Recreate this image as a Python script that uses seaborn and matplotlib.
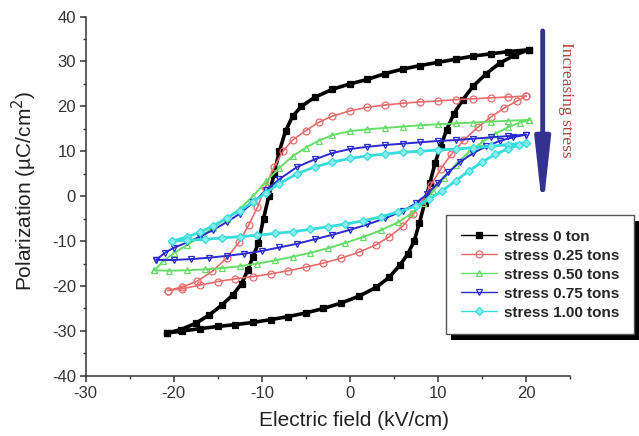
import numpy as np
import pandas as pd
import matplotlib.pyplot as plt
import seaborn as sns
from matplotlib.patches import Rectangle
from matplotlib.transforms import IdentityTransform
from matplotlib.ticker import MultipleLocator

# P-E hysteresis loops
# each loop: upper branch (field going down), then lower branch (field going up)
e0_up = [20.3, 18, 16, 14, 12, 10, 8, 6, 4, 2, 0, -2, -4, -5.5, -6.5, -7.3, -8.0, -8.6, -9.2,
         -9.8, -10.4, -11.0, -11.6, -12.3, -13.3, -14.5, -16, -17.5, -19.2, -20.8]
p0_up = [32.6, 32.2, 31.7, 31.2, 30.5, 29.8, 29.1, 28.3, 27.3, 26.0, 25.0, 23.8, 22.0, 20.0, 17.8,
         14.5, 10.0, 5.0, 0.0, -5.0, -10.5, -13.5, -16.5, -19.5, -22.0, -24.2, -26.5, -28.3, -29.7, -30.5]
e0_dn = [-20.8, -19, -17, -15, -13, -11, -9, -7, -5, -3, -1, 1, 3, 4.5, 5.7, 6.6, 7.3, 7.9, 8.5,
         9.1, 9.7, 10.3, 11.0, 11.8, 12.8, 14.0, 15.5, 17.0, 18.7, 20.3]
p0_dn = [-30.5, -30.0, -29.5, -29.0, -28.6, -28.1, -27.5, -26.8, -26.0, -25.0, -23.8, -22.3, -20.3,
         -18.0, -15.3, -12.8, -10.0, -6.0, -1.5, 3.0, 7.5, 11.0, 14.8, 18.3, 21.4, 24.5, 27.3, 29.6, 31.4, 32.6]

e25_up = [20, 18, 16, 14, 12, 10, 8, 6, 4, 2, 0, -2, -3.5, -5, -6.5, -7.6, -8.6, -9.6, -10.5,
          -11.5, -12.6, -14, -15.6, -17.3, -19, -20.7]
p25_up = [22.3, 22.1, 21.9, 21.7, 21.5, 21.2, 21.0, 20.7, 20.3, 19.8, 19.0, 17.8, 16.5, 14.6, 12.5,
          10.0, 6.5, 2.0, -2.5, -6.5, -10.3, -13.8, -16.7, -18.9, -20.2, -21.0]
e25_dn = [-20.7, -19, -17, -15, -13, -11, -9, -7, -5, -3, -1, 1, 3, 4.5, 6, 7.2, 8.2, 9.2, 10.3,
          11.5, 13, 14.5, 16, 17.5, 19, 20]
p25_dn = [-21.0, -20.6, -19.8, -19.0, -18.4, -17.9, -17.3, -16.6, -15.8, -14.9, -13.8, -12.5, -10.8,
          -9.0, -6.7, -4.0, -1.0, 2.5, 6.0, 9.3, 12.6, 15.3, 17.6, 19.6, 21.2, 22.3]

e50_up = [20.4, 18, 16, 14, 12, 10, 8, 6, 4, 2, 0, -2, -3.5, -5, -6.5, -8, -9.5, -11, -12.5,
          -14, -15.5, -17, -18.5, -20, -21.2, -22.2]
p50_up = [17.0, 16.8, 16.6, 16.4, 16.2, 16.0, 15.8, 15.5, 15.2, 14.9, 14.5, 13.6, 12.4, 10.8, 8.9,
          6.3, 3.3, 0.0, -2.8, -5.0, -7.0, -9.0, -10.9, -12.7, -14.5, -16.5]
e50_dn = [-22.2, -20.5, -18.5, -16.5, -14.5, -12.5, -10.5, -8.5, -6.5, -4.5, -2.5, -0.5, 1.5, 3.5,
          5.5, 7, 8.3, 9.5, 10.7, 12, 13.5, 15, 16.5, 18, 19.3, 20.4]
p50_dn = [-16.5, -16.6, -16.5, -16.3, -16.0, -15.6, -15.0, -14.3, -13.5, -12.6, -11.6, -10.4, -9.1,
          -7.6, -5.8, -3.8, -1.5, 1.2, 4.0, 7.0, 9.8, 12.0, 13.9, 15.4, 16.4, 17.0]

e75_up = [20, 18, 16, 14, 12, 10, 8, 6, 4, 2, 0, -2, -4, -6, -8, -9.5, -11, -12.5, -14, -15.5,
          -17, -18.5, -20, -21, -22]
p75_up = [13.7, 13.4, 13.1, 12.8, 12.5, 12.3, 12.0, 11.7, 11.4, 11.0, 10.5, 9.6, 8.2, 6.5, 3.8,
          1.3, -1.4, -3.9, -5.8, -7.5, -9.0, -10.3, -11.5, -12.6, -14.2]
e75_dn = [-22, -20, -18, -16, -14, -12, -10, -8, -6, -4, -2, 0, 2, 4, 6, 7.5, 8.8, 10, 11.2, 12.5,
          14, 15.5, 17, 18.5, 20]
p75_dn = [-14.2, -14.2, -14.0, -13.7, -13.3, -12.8, -12.2, -11.4, -10.6, -9.6, -8.6, -7.5, -6.3,
          -4.9, -3.3, -1.6, 0.5, 2.9, 5.3, 7.6, 9.6, 11.1, 12.3, 13.1, 13.7]

e100_up = [20, 18, 16, 14, 12, 10, 8, 6, 4, 2, 0, -2, -4, -6, -8, -9.5, -11, -12.5, -14, -15.5,
           -17, -18.5, -20.2]
p100_up = [11.9, 11.5, 11.1, 10.8, 10.5, 10.3, 10.0, 9.8, 9.4, 9.0, 8.4, 7.6, 6.5, 5.0, 2.8, 0.8,
           -1.3, -3.2, -4.9, -6.6, -8.0, -9.1, -10.0]
e100_dn = [-20.2, -18.5, -16.5, -14.5, -12.5, -10.5, -8.5, -6.5, -4.5, -2.5, -0.5, 1.5, 3.5, 5.5,
           7.5, 9, 10.5, 12, 13.5, 15, 16.5, 18, 19.2, 20]
p100_dn = [-10.0, -9.8, -9.6, -9.3, -9.0, -8.7, -8.3, -7.9, -7.4, -6.8, -6.2, -5.5, -4.6, -3.5,
           -2.2, -0.7, 1.2, 3.4, 5.6, 7.6, 9.3, 10.6, 11.4, 11.9]

labels = ['stress 0 ton', 'stress 0.25 tons', 'stress 0.50 tons', 'stress 0.75 tons', 'stress 1.00 tons']
loops = [(e0_up + e0_dn, p0_up + p0_dn),
         (e25_up + e25_dn, p25_up + p25_dn),
         (e50_up + e50_dn, p50_up + p50_dn),
         (e75_up + e75_dn, p75_up + p75_dn),
         (e100_up + e100_dn, p100_up + p100_dn)]

# 样式: 颜色, marker, 填充, marker大小, 线宽
styles = [('#000000', 's', '#000000', 4.5, 2.6),
          ('#e86a6a', 'o', 'none', 5.0, 1.2),
          ('#66dd66', '^', 'none', 5.0, 1.4),
          ('#2a2ad0', 'v', 'none', 5.0, 1.4),
          ('#35dcdc', 'D', '#8cecec', 4.0, 2.0)]

sns.set_style('ticks')
plt.rcParams['font.family'] = ['Liberation Sans', 'DejaVu Sans']
plt.rcParams['axes.unicode_minus'] = False

fig = plt.figure(figsize=(6.39, 4.36), dpi=100)
ax = fig.add_axes([0.134, 0.138, 0.758, 0.824])

for (e, p), lab, (col, mk, fc, ms, lw) in zip(loops, labels, styles):
    df = pd.DataFrame({'E': e, 'P': p})
    sns.lineplot(data=df, x='E', y='P', ax=ax, sort=False, estimator=None,
                 color=col, lw=lw, marker=mk, markersize=ms,
                 markerfacecolor=fc, markeredgecolor=col, markeredgewidth=0.9,
                 label=lab)

ax.set_xlim(-30, 25)
ax.set_ylim(-40, 40)
ax.xaxis.set_major_locator(MultipleLocator(10))
ax.xaxis.set_minor_locator(MultipleLocator(5))
ax.yaxis.set_major_locator(MultipleLocator(10))
ax.yaxis.set_minor_locator(MultipleLocator(5))
ax.tick_params(which='major', length=4, width=1.1, labelsize=12, colors='#333333', pad=3)
ax.tick_params(which='minor', length=2.5, width=1.0, colors='#333333')
for s in ['top', 'right']:
    ax.spines[s].set_visible(False)
for s in ['left', 'bottom']:
    ax.spines[s].set_linewidth(1.1)
    ax.spines[s].set_color('#333333')

ax.set_xlabel('Electric field (kV/cm)', fontsize=15, color='#222222')
ax.set_ylabel('Polarization (µC/cm$^2$)', fontsize=15, color='#222222')
ax.xaxis.set_label_coords(0.554, -0.097)
ax.yaxis.set_label_coords(-0.096, 0.515)

# arrow + text
ax.annotate('', xy=(21.9, -3.5), xytext=(21.9, 36.8),
            arrowprops=dict(arrowstyle='-|>,head_length=2.0,head_width=0.22',
                            color='#33338f', lw=3.5, mutation_scale=20, shrinkA=0, shrinkB=0),
            annotation_clip=False)
ax.text(24.6, 21.5, 'Increasing stress', rotation=-90, color='#b84040', fontsize=12.5,
        family='Liberation Serif', ha='center', va='center', clip_on=False)

leg = ax.legend(loc='upper left', bbox_to_anchor=(446 / 639, 1 - 215 / 436),
                bbox_transform=fig.transFigure, borderaxespad=0, frameon=True, fancybox=False,
                handlelength=2.4, handletextpad=0.45, labelspacing=0.33,
                borderpad=0.95, prop={'weight': 'bold', 'size': 11})
leg.get_frame().set_edgecolor('#555555')
leg.get_frame().set_linewidth(1.0)
leg.get_frame().set_alpha(1)
leg.set_zorder(10)
for ln in leg.get_lines():
    ln.set_linewidth(1.0)

fig.canvas.draw()
bb = leg.get_window_extent()
shadow = Rectangle((bb.x0 + 5, bb.y0 - 6), bb.width, bb.height, transform=IdentityTransform(),
                   facecolor='black', edgecolor='none', zorder=9, clip_on=False)
ax.add_patch(shadow)

plt.savefig('out.png', dpi=100)
